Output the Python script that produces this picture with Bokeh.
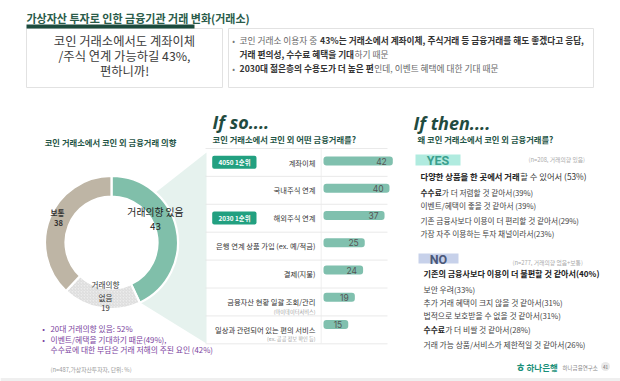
import numpy as np
from bokeh.plotting import figure
from bokeh.models import Range1d, ColumnDataSource
from bokeh.core.properties import value
from bokeh.embed import file_html
from bokeh.resources import INLINE

# ---------------- data ----------------
page_title = "가상자산 투자로 인한 금융기관 거래 변화(거래소)"
headline = ["코인 거래소에서도 계좌이체", "/주식 연계 가능하길 43%,", "편하니까!"]
summary_runs = [
    [("코인 거래소 이용자 중 ", False), ("43%는 거래소에서 계좌이체, 주식거래 등 금융거래를 해도 좋겠다고 응답,", True)],
    [("거래 편의성, 수수료 혜택을 기대", True), ("하기 때문", False)],
    [("2030대 젊은층의 수용도가 더 높은 편", True), ("인데, 이벤트 혜택에 대한 기대 때문", False)],
]

donut_title = "코인 거래소에서 코인 외 금융거래 의향"
donut_labels = ["거래의향 있음", "거래의향 없음", "보통"]
donut_values = [43, 19, 38]
donut_notes = ["20대 거래의향 있음: 52%", "이벤트/혜택을 기대하기 때문(49%),", "수수료에 대한 부담은 거래 저해의 주된 요인 (42%)"]
donut_source = "(n=487,가상자산투자자, 단위: %)"

bar_title = "코인 거래소에서 코인 외 어떤 금융거래를?"
bar_categories = ["계좌이체", "국내주식 연계", "해외주식 연계", "은행 연계 상품 가입 (ex. 예/적금)",
                  "결제(지불)", "금융자산 현황 일괄 조회/관리", "일상과 관련되어 있는 편의 서비스"]
bar_subnotes = ["", "", "", "", "", "(마이데이터서비스)", "(ex. 공공 정보 확인 등)"]
bar_values = [42, 40, 37, 25, 24, 19, 15]
rank_badges = ["4050 1순위", "2030 1순위"]
rank_rows = [0, 2]

why_title = "왜 코인 거래소에서 코인 외 금융거래를?"
yes_note = "(n=208, 거래의향 있음)"
yes_bold = ["다양한 상품을 한 곳에서 거래", "수수료", "", "", ""]
yes_rest = [" 할 수 있어서 ", "가 더 저렴할 것 같아서", "이벤트/혜택이 좋을 것 같아서  ",
            "기존 금융사보다 이용이 더 편리할 것 같아서", "가장 자주 이용하는 투자 채널이라서"]
yes_values = [53, 39, 39, 29, 23]

no_note = "(n=277, 거래의향 없음+보통)"
no_bold = ["기존의 금융사보다 이용이 더 불편할 것 같아서", "", "", "", "수수료", ""]
no_rest = ["", "보안 우려", "추가 거래 혜택이 크지 않을 것 같아서", "법적으로 보호받을 수 없을 것 같아서",
           "가 더 비쌀 것 같아서", "거래 가능 상품/서비스가 제한적일 것 같아서"]
no_values = [40, 33, 31, 31, 28, 26]

# ---------------- styling ----------------
KR = "Noto Sans CJK KR"
DARK_GREEN = "#1f5546"
BAR_COLOR = "#80c0ae"
DONUT_COLORS = ["#80bfaa", "#ececec", "#beb5a5"]
W, H = 620, 381


def em_width(s, bold=False):
    w = 0.0
    for ch in s:
        o = ord(ch)
        if 0xAC00 <= o <= 0xD7A3 or 0x3131 <= o <= 0x318E:
            w += 0.925 if bold else 0.93
            continue
        if ch == " ":
            c = 0.224
        elif ch.isdigit():
            c = 0.555
        elif ch == "%":
            c = 0.84
        elif ch in "()":
            c = 0.33
        elif ch in ",.:":
            c = 0.25
        elif ch == "/":
            c = 0.36
        elif ch in "+=":
            c = 0.555
        else:
            c = 0.52
        w += c * (1.04 if bold else 1.0)
    return w


p = figure(width=W, height=H, x_range=Range1d(0, W), y_range=Range1d(H, 0),
           output_backend="svg", toolbar_location=None, min_border=0,
           x_axis_location=None, y_axis_location=None,
           background_fill_color="white", border_fill_color="white")
p.grid.visible = False
p.outline_line_color = None
# bar value scale: 0 at x=323, 1.65 px per %
p.extra_x_ranges = {"bar": Range1d((0 - 323) / 1.65, (W - 323) / 1.65)}

T = dict(x=[], y=[], text=[], size=[], color=[], style=[], align=[], font=[], base=[])


def put(x, y, s, size, color, bold=False, align="left", font=KR, style=None, base="middle"):
    T["x"].append(x)
    T["y"].append(y)
    T["text"].append(s)
    T["size"].append(f"{size}px")
    T["color"].append(color)
    T["style"].append(style or ("bold" if bold else "normal"))
    T["align"].append(align)
    T["font"].append(font)
    T["base"].append(base)


def put_runs(x, y, runs, size):
    for s, b, c in runs:
        if not s:
            continue
        put(x, y, s, size, c, bold=b)
        x += em_width(s, b) * size


# ---------------- header ----------------
put(26, 17, page_title, 11, "#2b5c4a", bold=True)
p.quad(left=[26, 228], right=[222, 593], top=[28, 28], bottom=[87, 87],
       fill_color="white", line_color="#e2e2e2", line_width=1)
p.quad(left=26, right=194, top=24, bottom=28, fill_color="#1c4b3d", line_color=None)
for i, line in enumerate(headline):
    put(124, [40.7, 55.3, 70][i], line, 12.3, "#3b3b3b", align="center")

for i, runs in enumerate(summary_runs):
    yy = [40, 54, 68][i]
    if i != 1:
        put(233, yy, "•", 8, "#777", align="center")
    put_runs(239, yy, [(s, b, "#333" if b else "#666") for s, b in runs], 8.7)

# ---------------- donut ----------------
CX, CY, R_IN, R_OUT = 111, 242, 46, 66.5
p.patch([145, 206, 206, 130], [200, 152, 343, 296], fill_color="#e6f2ee", line_color=None)
p.circle(x=[CX], y=[CY], radius=R_IN, fill_color="white", line_color=None)

frac = np.array(donut_values, dtype=float) / sum(donut_values)
cum = np.concatenate([[0.0], np.cumsum(frac)])
dsrc = ColumnDataSource(dict(
    start=np.pi / 2 - 2 * np.pi * cum[:-1],
    end=np.pi / 2 - 2 * np.pi * cum[1:],
    color=DONUT_COLORS,
    hatch=[" ", "/", " "],
))
p.annular_wedge(x=CX, y=CY, inner_radius=R_IN, outer_radius=R_OUT,
                start_angle="start", end_angle="end", direction="clock",
                fill_color="color", hatch_pattern="hatch", hatch_color="#d2d2d2",
                hatch_scale=3, hatch_weight=0.7,
                line_color="white", line_width=2.2, source=dsrc)

put(110, 141.7, donut_title, 8.3, DARK_GREEN, bold=True, align="center")
put(155, 211.7, donut_labels[0], 9.8, "#222", align="center")
put(155, 225.7, str(donut_values[0]), 9.8, "#222", align="center")
put(105, 284, donut_labels[1][:4], 7.6, "#333", align="center")
put(105, 296.5, donut_labels[1][5:], 7.6, "#333", align="center")
put(105, 307.5, str(donut_values[1]), 7.6, "#333", align="center")
put(57, 211.7, donut_labels[2], 7.6, "#333", bold=True, align="center")
put(58, 222.5, str(donut_values[2]), 7.6, "#333", bold=True, align="center")

for i, s in enumerate(donut_notes):
    yy = [328, 338.5, 349][i]
    if i < 2:
        put(43, yy, "•", 7.8, "#7b3f9e", align="center")
    put(50, yy, s, 7.8, "#7b3f9e")
put(50, 368.5, donut_source, 5.8, "#9a9a9a")

# ---------------- bar panel ----------------
put(212, 121, "If so....", 18, "#1f4b40", font="Open Sans", style="bold italic", base="alphabetic")
put(212, 138, bar_title, 8.3, DARK_GREEN, bold=True)

n = len(bar_values)
sep_y = [148 + 27.9 * j for j in range(n + 1)]
p.segment(x0=205, x1=387, y0=sep_y, y1=sep_y, line_color="#e4e4e4", line_width=0.8)
p.segment(x0=[320.7], x1=[320.7], y0=[148], y1=[343], line_color="#ececec", line_width=0.8)

label_y = [162 + 27.9 * i for i in range(n)]
bar_y = [160.5 + 27.25 * i for i in range(n)]
p.hbar(y=bar_y, left=0, right=bar_values, height=9, x_range_name="bar",
       fill_color=BAR_COLOR, line_color=None, border_radius=3)
p.text(x=bar_values, y=bar_y, text=[str(v) for v in bar_values], x_range_name="bar",
       x_offset=-6, text_align="right", text_baseline="middle",
       text_font=value("Inter"), text_font_size="8.5px", text_color="#555")

for i, (c, sub) in enumerate(zip(bar_categories, bar_subnotes)):
    put(315, label_y[i], c, 7.3, "#333", align="right")
    if sub:
        put(315, label_y[i] + 9, sub, 5.2, "#a0a0a0", align="right")

for b, r in zip(rank_badges, rank_rows):
    yc = label_y[r] - 0.3
    p.quad(left=211.7, right=256, top=yc - 6.5, bottom=yc + 6.5, fill_color="#22a080",
           line_color=None, border_radius=2)
    put(234, yc, b, 6.4, "white", bold=True, align="center")

# ---------------- reasons panel ----------------
put(413, 122, "If then....", 18, "#1f4b40", font="Open Sans", style="bold italic", base="alphabetic")
put(417, 138, why_title, 8.3, DARK_GREEN, bold=True)

p.quad(left=415, right=460, top=154, bottom=165, fill_color="#b0ebdf", line_color=None)
put(437.5, 160, "YES", 12.5, "#3aa08e", font="Roboto", bold=True, align="center")
put(528, 158.5, yes_note, 5.8, "#aaa")
yes_y = [175, 191.7, 205, 220, 233.3]
for i, (b, r, v) in enumerate(zip(yes_bold, yes_rest, yes_values)):
    size = 8.3 if i == 0 else 7.7
    put_runs(420, yes_y[i], [(b, True, "#222"), (r + f"({v}%)", False, "#333" if i == 0 else "#444")], size)

p.quad(left=418, right=458, top=253, bottom=263, fill_color="#c7d1ea", line_color=None)
put(438, 258.5, "NO", 12.5, "#4b5878", font="Roboto", bold=True, align="center")
put(512, 261.7, no_note, 5.8, "#aaa")
no_y = [273, 289, 302, 315, 329, 344]
for i, (b, r, v) in enumerate(zip(no_bold, no_rest, no_values)):
    size = 8.1 if i == 0 else 7.8
    pct = f"({v}%)"
    if r:
        runs = [(b, True, "#222"), (r + pct, False, "#444")]
    else:
        runs = [(b + pct, True, "#222")]
    put_runs(423, no_y[i], runs, size)

# ---------------- footer ----------------
p.quad(left=0, right=W, top=377.5, bottom=H, fill_color="#efefef", line_color=None)
put(520, 366, "ㅎ", 11, "#1a9079", bold=True, align="center")
put(526, 366, "하나은행", 8.5, "#1a9079", bold=True)
put(562, 367, "하나금융연구소", 5.5, "#888")
p.circle(x=[605], y=[366], radius=4.5, fill_color="#e9e9e9", line_color=None)
put(605, 366, "41", 4.5, "#666", align="center")

p.text(x="x", y="y", text="text", source=ColumnDataSource(T),
       text_font_size="size", text_color="color", text_font_style="style",
       text_align="align", text_font="font", text_baseline="base")

open("out.html", "w").write(file_html(p, INLINE))
